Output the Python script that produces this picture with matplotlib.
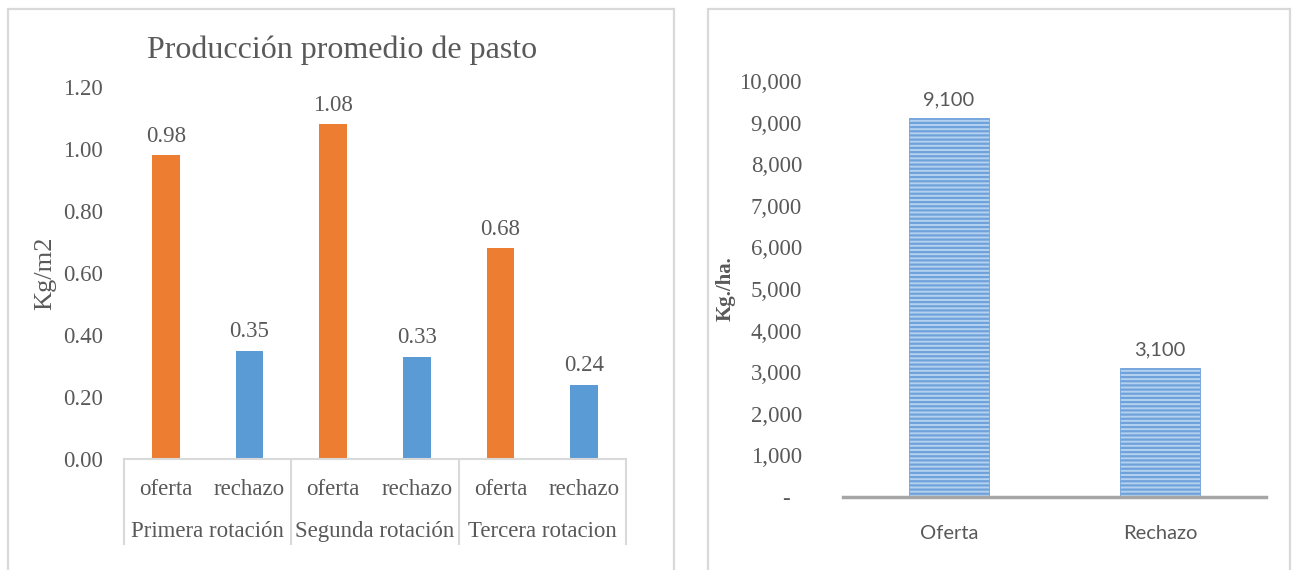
import matplotlib.pyplot as plt
import matplotlib.transforms as mtransforms
from matplotlib.patches import Rectangle
from matplotlib.ticker import FuncFormatter

# datos grafico izquierdo
tipos = ['oferta', 'rechazo', 'oferta', 'rechazo', 'oferta', 'rechazo']
rotaciones = ['Primera rotación', 'Segunda rotación', 'Tercera rotacion']
produccion = [0.98, 0.35, 1.08, 0.33, 0.68, 0.24]

# datos grafico derecho
categorias = ['Oferta', 'Rechazo']
kg_ha = [9100, 3100]

naranja = '#ED7D31'
azul = '#5B9BD5'
gris = '#595959'
serif = 'Liberation Serif'
sans = 'Lato'

plt.rcParams['font.family'] = [serif, 'DejaVu Serif']
plt.rcParams['hatch.linewidth'] = 1.6

W, H = 1297, 570
fig = plt.figure(figsize=(W / 100, H / 100), dpi=100)


def px(x0, y0, x1, y1):
    # caja en pixeles (y desde arriba) -> fraccion de figura
    return [x0 / W, 1 - y1 / H, (x1 - x0) / W, (y1 - y0) / H]


# marcos de los dos graficos
for x0, x1 in [(8, 674), (708, 1290)]:
    fig.patches.append(Rectangle((x0 / W, -0.05), (x1 - x0) / W, 1.05 - 9 / H,
                                 transform=fig.transFigure, fill=False,
                                 edgecolor='#d9d9d9', linewidth=1.6))

# ---------------- izquierdo ----------------
ax1 = fig.add_axes(px(124, 87, 626, 459))
x = list(range(len(tipos)))
colores = [naranja if t == 'oferta' else azul for t in tipos]
barras = ax1.bar(x, produccion, width=0.33, color=colores)
ax1.set_xlim(-0.5, 5.5)
ax1.set_ylim(0, 1.2)
ax1.set_yticks([0, 0.2, 0.4, 0.6, 0.8, 1.0, 1.2])
ax1.yaxis.set_major_formatter(FuncFormatter(lambda v, p: '%.2f' % v))
ax1.tick_params(axis='y', length=0, pad=15, labelsize=16.5, labelcolor=gris)
ax1.set_xticks([])
for s in ax1.spines.values():
    s.set_visible(False)
ax1.set_ylabel('Kg/m2', fontsize=19, color=gris, labelpad=5)

for b, v in zip(barras, produccion):
    ax1.annotate('%.2f' % v, (b.get_x() + b.get_width() / 2, v),
                 xytext=(0, 6), textcoords='offset points', ha='center',
                 va='bottom', fontsize=16.5, color=gris)

trans = mtransforms.blended_transform_factory(ax1.transData, ax1.transAxes)
ax1.plot([-0.5, 5.5], [0, 0], transform=trans, color='#d9d9d9', lw=1.5,
         clip_on=False)
for xb in [-0.5, 1.5, 3.5, 5.5]:
    ax1.plot([xb, xb], [0, -0.229], transform=trans, color='#d9d9d9', lw=1.5,
             clip_on=False)
for xi, t in zip(x, tipos):
    ax1.text(xi, -0.081, t, transform=trans, ha='center', va='center',
             fontsize=16.5, color=gris)
for i, r in enumerate(rotaciones):
    ax1.text(2 * i + 0.5, -0.194, r, transform=trans, ha='center',
             va='center', fontsize=16.5, color=gris)

fig.text(342 / W, 1 - 50 / H, 'Producción promedio de pasto', ha='center',
         va='center', fontsize=23, color=gris)

# ---------------- derecho ----------------
ax2 = fig.add_axes(px(843, 81, 1266, 497))
barras2 = ax2.bar(range(len(categorias)), kg_ha, width=0.38,
                  color='#b4d2f0', edgecolor='#6fa2da', hatch='----',
                  linewidth=0.6)
ax2.set_xlim(-0.5, 1.5)
ax2.set_ylim(0, 10000)
ax2.set_yticks(range(0, 10001, 1000))
ax2.yaxis.set_major_formatter(
    FuncFormatter(lambda v, p: '-  ' if v == 0 else '{:,.0f}'.format(v)))
ax2.tick_params(axis='y', length=0, pad=29.5, labelsize=16.5, labelcolor=gris)
ax2.set_xticks(range(len(categorias)))
ax2.set_xticklabels(categorias, fontsize=14.5, family=sans, color=gris)
ax2.tick_params(axis='x', length=0, pad=20)
for k in ['top', 'right', 'left']:
    ax2.spines[k].set_visible(False)
ax2.spines['bottom'].set_color('#a6a6a6')
ax2.spines['bottom'].set_linewidth(2.5)
ax2.set_ylabel('Kg./ha.', fontsize=15, fontweight='bold', color=gris,
               labelpad=3)

for b, v in zip(barras2, kg_ha):
    ax2.annotate('{:,}'.format(v), (b.get_x() + b.get_width() / 2, v),
                 xytext=(0, 7), textcoords='offset points', ha='center',
                 va='bottom', fontsize=14.5, family=sans, color=gris)

fig.savefig('out.png', dpi=100)
